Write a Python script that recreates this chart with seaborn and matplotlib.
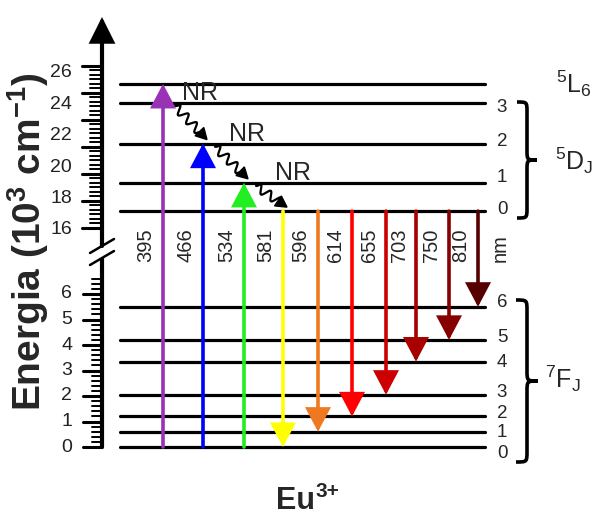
import numpy as np
import pandas as pd
import matplotlib
matplotlib.use("Agg")
import matplotlib.pyplot as plt
from matplotlib.path import Path
from matplotlib.patches import PathPatch, Polygon
from matplotlib.transforms import IdentityTransform
import seaborn as sns

# ------------------------------------------------------------------ data
upper_levels = ["5L6", "5D3", "5D2", "5D1", "5D0"]
upper_energy = [25.3, 24.1, 21.5, 19.0, 17.2]          # 10^3 cm^-1
upper_J = ["", "3", "2", "1", "0"]

lower_levels = ["7F6", "7F5", "7F4", "7F3", "7F2", "7F1", "7F0"]
lower_energy = [5.5, 4.2, 3.35, 2.05, 1.2, 0.6, 0.0]   # 10^3 cm^-1
lower_J = ["6", "5", "4", "3", "2", "1", "0"]

exc_wavelength = [395, 466, 534]
exc_target = ["5L6", "5D2", "5D1"]
exc_colors = ["#9A32B6", "#0000FF", "#22EE22"]

em_wavelength = [581, 596, 614, 655, 703, 750, 810]
em_target = ["7F0", "7F1", "7F2", "7F3", "7F4", "7F5", "7F6"]
em_colors = ["#FFFF00", "#F07820", "#FF0000", "#CC0000", "#A80000", "#860000", "#560000"]

nr_from = ["5D3", "5D2", "5D1"]
nr_to = ["5D2", "5D1", "5D0"]

upper_ticklabels = [16, 18, 20, 22, 24, 26]
lower_ticklabels = [0, 1, 2, 3, 4, 5, 6]

energy = dict(zip(upper_levels + lower_levels, upper_energy + lower_energy))

# ------------------------------------------------------------------ layout
W, H = 596, 516
PX = 25.5            # pixels per unit on the lower segment
ZERO_ROW = 447       # pixel row of energy 0
Y16 = 8.51           # mapped position of 16 (broken axis)
UPPER_SCALE = 0.616  # compression of upper segment


def ymap(E):
    E = np.asarray(E, dtype=float)
    return np.where(E > 10, Y16 + (E - 16) * UPPER_SCALE, E)


def row(px_row):  # pixel row -> mapped y (for decorations only)
    return (ZERO_ROW - px_row) / PX


AXIS_X = 102
LEVEL_X = (120, 485)
exc_x = [163, 203, 244]
em_x = [283, 318, 352, 386, 416, 449, 478]
LABEL_ROW = 245
J_X = 502
# small vertical nudges (pixels, downward positive) of the J labels
upper_J_nudge = [0, 5, -2, -5, -2]
lower_J_nudge = [-4, -2, 1, -2, -3, 1, 6]

# ------------------------------------------------------------------ style
sns.set_theme(style="white")
plt.rcParams["font.family"] = ["Liberation Sans", "DejaVu Sans"]
plt.rcParams["mathtext.fontset"] = "custom"
plt.rcParams["mathtext.rm"] = "Liberation Sans"
plt.rcParams["mathtext.it"] = "Liberation Sans:italic"
plt.rcParams["mathtext.bf"] = "Liberation Sans:bold"

fig = plt.figure(figsize=(W / 100, H / 100), dpi=100)
fig.patch.set_facecolor("white")
ax = fig.add_axes([0, 0, 1, 1])
ax.set_xlim(0, W)
ax.set_ylim(row(H), row(0))
ax.axis("off")

# ------------------------------------------------------------------ levels (seaborn)
rows = []
for name in upper_levels + lower_levels:
    for xx in LEVEL_X:
        rows.append({"level": name, "x": xx, "y": float(ymap(energy[name]))})
df_levels = pd.DataFrame(rows)
sns.lineplot(data=df_levels, x="x", y="y", units="level", estimator=None,
             color="black", linewidth=2.3, sort=False, legend=False, ax=ax)
ax.set_xlabel("")
ax.set_ylabel("")


def varrow(x, y0, y1, color, lw=2.6, hl=0.68, hw=0.36):
    ax.annotate("", xy=(x, y1), xytext=(x, y0),
                arrowprops=dict(arrowstyle=f"-|>,head_length={hl},head_width={hw}",
                                color=color, lw=lw, shrinkA=0, shrinkB=0,
                                mutation_scale=20, joinstyle="miter"))


# excitation arrows
for xx, tgt, c in zip(exc_x, exc_target, exc_colors):
    varrow(xx, float(ymap(0.0)), float(ymap(energy[tgt])), c)

# emission arrows
for xx, tgt, c in zip(em_x, em_target, em_colors):
    varrow(xx, float(ymap(energy["5D0"])), float(ymap(energy[tgt])), c)

# wavelength labels
for xx, wl in zip(exc_x + em_x, exc_wavelength + em_wavelength):
    ax.text(xx - 17, row(LABEL_ROW), str(wl), rotation=90, ha="center",
            va="center", fontsize=14.5)
ax.text(500, row(LABEL_ROW + 3), "nm", rotation=90, ha="center", va="center",
        fontsize=14.5)

# ------------------------------------------------------------------ NR wavy arrows
to_disp = ax.transData.transform


def wavy_arrow(p0, p1, amp=4.3, lam=12.0, head_len=11.0, head_hw=6.0):
    p0 = np.array(p0, float)
    p1 = np.array(p1, float)
    d = p1 - p0
    L = np.hypot(*d)
    u = d / L
    n = np.array([-u[1], u[0]])
    t = np.linspace(0, L - head_len, 200)
    env = np.clip(t / 3.0, 0, 1)
    pts = p0[None, :] + t[:, None] * u[None, :] + \
        (amp * env * np.sin(2 * np.pi * t / lam))[:, None] * n[None, :]
    ax.plot(pts[:, 0], pts[:, 1], color="black", lw=1.6,
            transform=IdentityTransform(), solid_capstyle="round")
    base = p1 - u * head_len
    tri = [p1, base + n * head_hw, base - n * head_hw]
    ax.add_patch(Polygon(tri, closed=True, color="black",
                         transform=IdentityTransform()))


next_x = exc_x[1:] + [em_x[0]]
for i, (a, b) in enumerate(zip(nr_from, nr_to)):
    s = to_disp((exc_x[i], float(ymap(energy[a]))))
    e = to_disp((next_x[i], float(ymap(energy[b]))))
    wavy_arrow((s[0] + 12, s[1] - 3), (e[0] + 4, e[1] + 4))

nr_label_x = [200, 247, 293]
for xx, a in zip(nr_label_x, nr_from):
    ax.text(xx, float(ymap(energy[a])) + 2.5 / PX, "NR", ha="center",
            va="baseline", fontsize=18)

# ------------------------------------------------------------------ y axis
BREAK_HI, BREAK_LO = 246, 258   # pixel rows of the axis gap
ax.plot([AXIS_X, AXIS_X], [float(ymap(0.0)), row(BREAK_LO)], color="black",
        lw=3.0, solid_capstyle="butt")
varrow(AXIS_X, row(BREAK_HI), row(17), "black", lw=3.0, hl=0.72, hw=0.36)
for c in (BREAK_HI, BREAK_LO):
    ax.plot([AXIS_X - 12, AXIS_X + 12], [row(c + 7), row(c - 7)], color="black",
            lw=1.8)

# lower ticks
lower_major = np.arange(0, 7)
lower_minor = np.arange(0, 6.61, 0.2)
for v in lower_minor:
    ax.plot([92, AXIS_X], [v, v], color="black", lw=1.4)
for v in lower_major:
    ax.plot([83, AXIS_X], [v, v], color="black", lw=2.2)

# upper ticks
upper_major = np.linspace(16.13, 26.45, 7)
upper_minor = np.linspace(16.13, 26.45, 37)
for v in upper_minor:
    ax.plot([90, AXIS_X], [float(ymap(v))] * 2, color="black", lw=1.4)
for v in upper_major:
    ax.plot([82, AXIS_X], [float(ymap(v))] * 2, color="black", lw=2.2)

for v in lower_ticklabels:
    ax.text(72, float(ymap(v)), str(v), ha="right", va="center", fontsize=14,
            color="#222222")
for v in upper_ticklabels:
    ax.text(72, float(ymap(v)), str(v), ha="right", va="center", fontsize=14,
            color="#222222")

# ------------------------------------------------------------------ J labels
for name, j, nud in zip(upper_levels + lower_levels, upper_J + lower_J,
                        upper_J_nudge + lower_J_nudge):
    if j:
        ax.text(J_X, float(ymap(energy[name])) - nud / PX, j, ha="center",
                va="center", fontsize=13.5)

# ------------------------------------------------------------------ braces


def brace(x0, w, top_row, bot_row, lw=2.6):
    xt = to_disp((x0, row(top_row)))
    xb = to_disp((x0, row(bot_row)))
    X0 = xt[0]
    yt, yb = xt[1], xb[1]
    ym = (yt + yb) / 2
    q = w / 2
    xm = X0 + w / 2
    verts = [(X0, yt), (xm, yt), (xm, yt), (xm, yt - q),
             (xm, ym + q),
             (xm, ym), (xm, ym), (X0 + w, ym),
             (xm, ym), (xm, ym), (xm, ym - q),
             (xm, yb + q),
             (xm, yb), (xm, yb), (X0, yb)]
    codes = [Path.MOVETO, Path.CURVE4, Path.CURVE4, Path.CURVE4,
             Path.LINETO,
             Path.CURVE4, Path.CURVE4, Path.CURVE4,
             Path.CURVE4, Path.CURVE4, Path.CURVE4,
             Path.LINETO,
             Path.CURVE4, Path.CURVE4, Path.CURVE4]
    ax.add_patch(PathPatch(Path(verts, codes), facecolor="none",
                           edgecolor="black", lw=lw,
                           transform=IdentityTransform()))


brace(517, 20, 102, 218)
brace(516, 22, 300, 462)

ax.text(556, row(93), r"$^{5}$L$_{6}$", ha="left", va="baseline", fontsize=18)
ax.text(555, row(170), r"$^{5}$D$_{\mathrm{J}}$", ha="left", va="baseline",
        fontsize=18)
ax.text(545, row(388), r"$^{7}$F$_{\mathrm{J}}$", ha="left", va="baseline",
        fontsize=18)

# ------------------------------------------------------------------ titles
fig.text(41 / W, 1 - 242 / H, r"Energia (10$^{\mathbf{3}}$ cm$^{\mathbf{-1}}$)",
         rotation=90, rotation_mode="anchor", ha="center", va="baseline",
         fontsize=28, fontweight="bold")
fig.text(296 / W, 1 - 509 / H, "Eu", ha="center", va="baseline", fontsize=22,
         fontweight="bold")
fig.text(316 / W, 1 - 497 / H, "3+", ha="left", va="baseline", fontsize=15,
         fontweight="bold")

fig.savefig("out.png", dpi=100, facecolor="white")
